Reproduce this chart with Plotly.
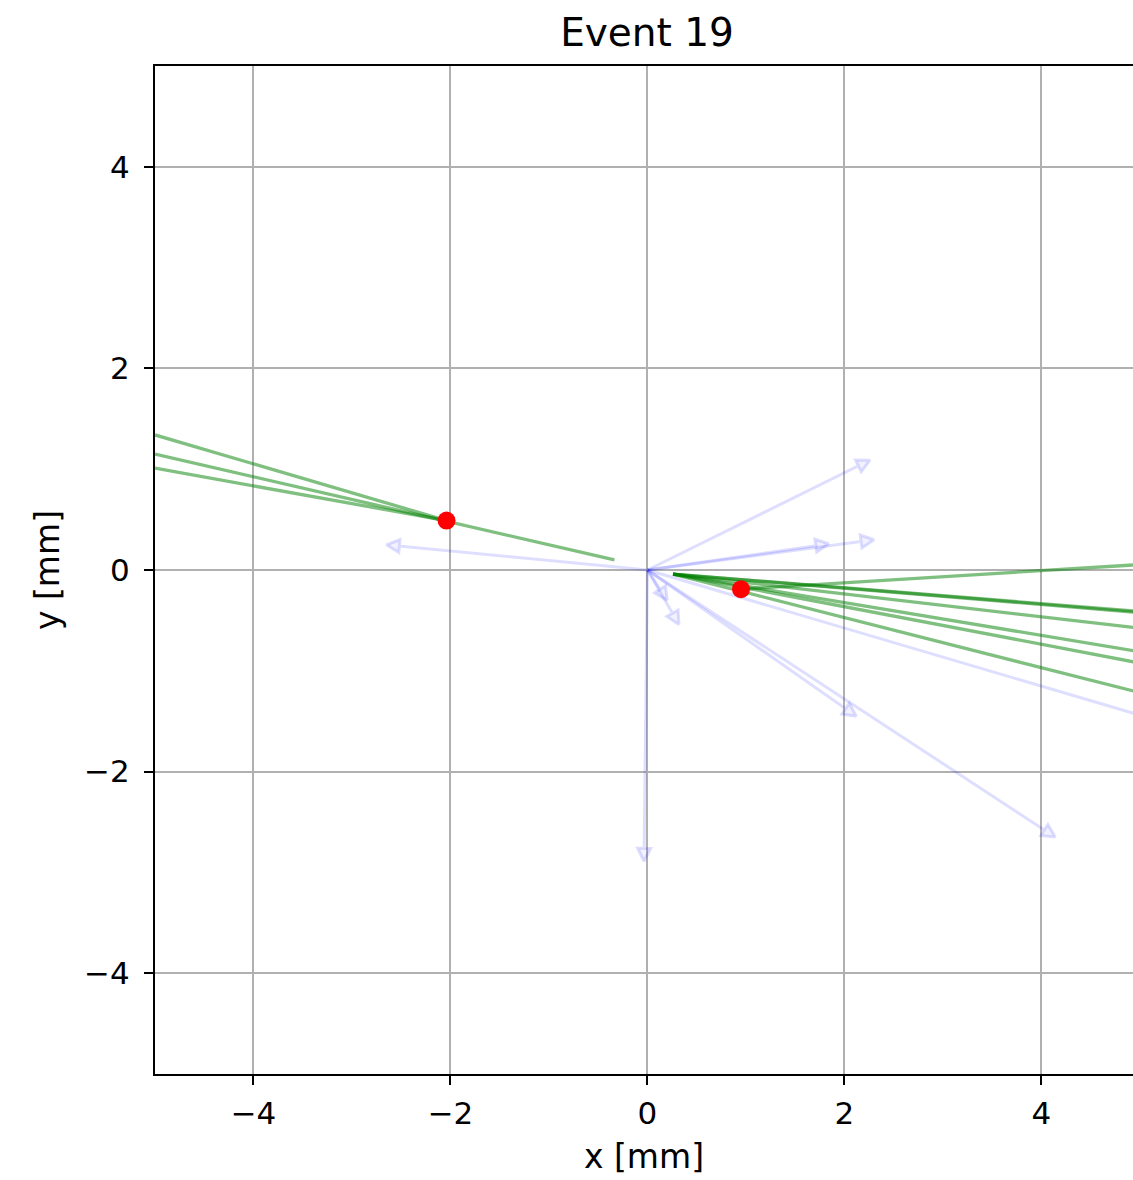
import numpy as np
import plotly.graph_objects as go

# Reconstructed vertices
vertex_x = [-2.04, 0.95]
vertex_y = [0.49, -0.19]

# Track segments (start -> end), left vertex
left_x0 = [-5.0, -5.0, -5.0]
left_y0 = [1.34, 1.15, 1.01]
left_x1 = [-2.04, -0.335, -2.04]
left_y1 = [0.49, 0.10, 0.49]

# Track segments, right vertex
right_x0 = [0.95, 0.26, 0.26, 0.26, 0.26, 0.26, 0.26]
right_y0 = [-0.19, -0.04, -0.04, -0.04, -0.04, -0.04, -0.04]
right_x1 = [5.0, 5.0, 5.0, 5.0, 5.0, 5.0, 5.0]
right_y1 = [0.054, -0.412, -0.422, -0.578, -0.811, -0.923, -1.217]

# Truth particle momenta drawn as arrows from the origin (tips)
arrow_dx = [2.26, 1.84, 2.30, -2.65, 0.20, 0.32, -0.035, 2.12, 4.14, 5.5]
arrow_dy = [1.09, 0.26, 0.30, 0.25, -0.30, -0.54, -2.89, -1.45, -2.65, -1.584]

x_ticks = [-4, -2, 0, 2, 4]
y_ticks = [-4, -2, 0, 2, 4]

W, H = 1133, 1180
ML, MR, MT, MB = 155, 0, 66, 106
xmin, xmax = -5.0, 4.93
ymin, ymax = -5.0, 5.0
sx = (W - ML - MR) / (xmax - xmin)
sy = (H - MT - MB) / (ymax - ymin)

fig = go.Figure()

# Arrows: shaft + triangular head, translucent blue
head_len, head_half = 13.0, 6.5
for dx, dy in zip(arrow_dx, arrow_dy):
    px, py = dx * sx, dy * sy
    L = np.hypot(px, py)
    ux, uy = px / L, py / L
    nx, ny = -uy, ux
    bx, by = px - ux * head_len, py - uy * head_len
    pts = [(0, 0), (bx, by), (bx + nx * head_half, by + ny * head_half),
           (px, py), (bx - nx * head_half, by - ny * head_half), (bx, by)]
    xs = [p[0] / sx for p in pts]
    ys = [p[1] / sy for p in pts]
    fig.add_trace(go.Scatter(
        x=xs, y=ys, mode="lines", fill="toself",
        fillcolor="rgba(0,0,255,0.05)",
        line=dict(color="rgba(0,0,255,0.13)", width=3),
        hoverinfo="skip", showlegend=False))

# Reconstructed tracks
for x0, y0, x1, y1 in zip(left_x0 + right_x0, left_y0 + right_y0,
                          left_x1 + right_x1, left_y1 + right_y1):
    fig.add_trace(go.Scatter(
        x=[x0, x1], y=[y0, y1], mode="lines",
        line=dict(color="rgba(0,128,0,0.5)", width=3.3),
        hoverinfo="skip", showlegend=False))

# Vertices
fig.add_trace(go.Scatter(
    x=vertex_x, y=vertex_y, mode="markers",
    marker=dict(color="red", size=18, line=dict(width=0)),
    showlegend=False))

font = "DejaVu Sans"
fig.update_layout(
    width=W, height=H,
    margin=dict(l=ML, r=MR, t=MT, b=MB, pad=0),
    paper_bgcolor="white", plot_bgcolor="white",
    font=dict(family=font, color="black", size=31),
    title=dict(text="Event 19", x=647 / W, xref="container", xanchor="center",
               y=1 - 32 / H, yref="container", yanchor="middle",
               font=dict(size=39, family=font, color="black")),
    xaxis=dict(range=[xmin, xmax], tickvals=x_ticks,
               ticktext=[str(v).replace("-", "\u2212") for v in x_ticks],
               showgrid=True, gridcolor="#b0b0b0", gridwidth=2, zeroline=False,
               showline=True, linecolor="black", linewidth=2, mirror=True,
               ticks="outside", ticklen=9, tickwidth=2, tickcolor="black",
               ticklabelstandoff=2,
               title=dict(text="x [mm]", standoff=15, font=dict(size=33))),
    yaxis=dict(range=[ymin, ymax], tickvals=y_ticks,
               ticktext=[str(v).replace("-", "\u2212") for v in y_ticks],
               showgrid=True, gridcolor="#b0b0b0", gridwidth=2, zeroline=False,
               showline=True, linecolor="black", linewidth=2,
               ticks="outside", ticklen=9, tickwidth=2, tickcolor="black",
               ticklabelstandoff=8,
               title=dict(text="y [mm]", standoff=15, font=dict(size=33))),
)

fig.write_html("out.html")
